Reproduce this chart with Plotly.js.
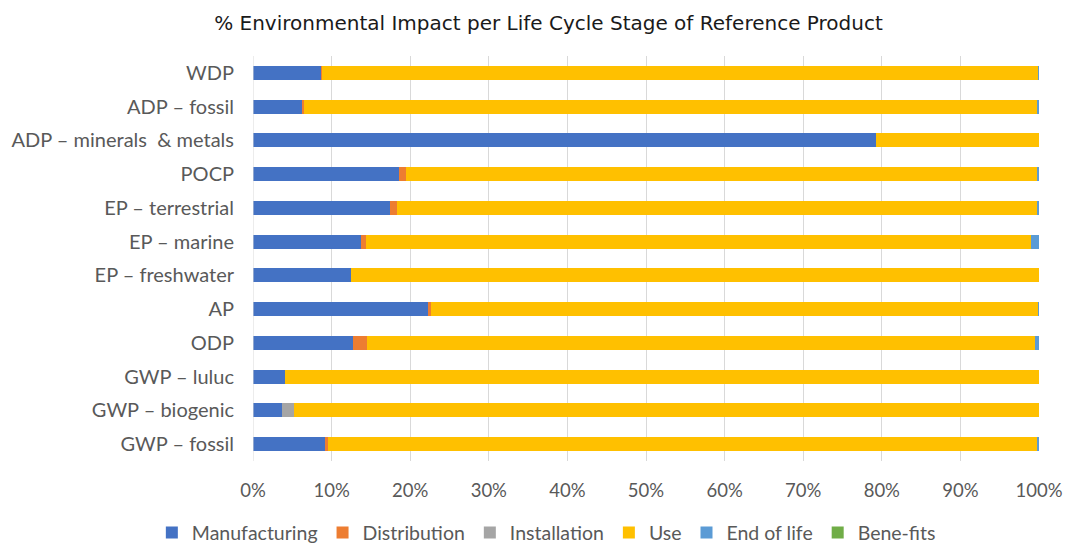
<!DOCTYPE html>
<html>
<head>
<meta charset="utf-8">
<script src="https://cdn.plot.ly/plotly-3.0.1.min.js"></script>
<style>html,body{margin:0;padding:0;background:#fff;}#chart{width:1065px;height:546px;}</style>
</head>
<body>
<div id="chart"></div>
<script>
// categories from bottom to top
const categories = ["GWP – fossil", "GWP – biogenic", "GWP – luluc", "ODP", "AP", "EP – freshwater", "EP – marine", "EP – terrestrial", "POCP", "ADP – minerals  & metals", "ADP – fossil", "WDP"];
const manufacturing = [9.1, 3.7, 4.1, 12.7, 22.3, 12.5, 13.7, 17.4, 18.6, 79.3, 6.2, 8.6];
const distribution  = [0.4, 0.0, 0.0, 1.8, 0.3, 0.0, 0.7, 0.9, 0.9, 0.0, 0.35, 0.2];
const installation  = [0.0, 1.5, 0.0, 0.0, 0.0, 0.0, 0.0, 0.0, 0.0, 0.0, 0.0, 0.0];
const use           = [90.3, 94.8, 95.9, 85.0, 77.3, 87.5, 84.55, 81.4, 80.2, 20.7, 93.25, 91.1];
const endOfLife     = [0.2, 0.0, 0.0, 0.5, 0.1, 0.0, 1.05, 0.3, 0.3, 0.0, 0.2, 0.1];
const benefits      = [0, 0, 0, 0, 0, 0, 0, 0, 0, 0, 0, 0];
const xTicks = [0, 10, 20, 30, 40, 50, 60, 70, 80, 90, 100];
const xTickLabels = ["0%", "10%", "20%", "30%", "40%", "50%", "60%", "70%", "80%", "90%", "100%"];

const series = [
  {name: "Manufacturing", x: manufacturing, color: "#4472C4"},
  {name: "Distribution", x: distribution, color: "#ED7D31"},
  {name: "Installation", x: installation, color: "#A5A5A5"},
  {name: "Use", x: use, color: "#FFC000"},
  {name: "End of life", x: endOfLife, color: "#5B9BD5"},
  {name: "Bene-fits", x: benefits, color: "#70AD47"}
];
const traces = series.map(s => ({
  type: "bar", orientation: "h", name: s.name, x: s.x, y: categories,
  marker: {color: s.color, line: {width: 0}}, width: 0.42, hoverinfo: "x+name"
}));

const layout = {
  width: 1065, height: 546,
  barmode: "stack",
  paper_bgcolor: "#fff", plot_bgcolor: "#fff",
  margin: {l: 253, r: 26, t: 56, b: 85, autoexpand: false},
  font: {family: "Lato, 'Open Sans', sans-serif", color: "#595959", size: 19},
  title: {text: "% Environmental Impact per Life Cycle Stage of Reference Product",
          font: {family: "'DejaVu Sans', sans-serif", size: 20, color: "#1a1a1a"},
          x: 0.515, xanchor: "center", y: 0.958, yanchor: "middle"},
  xaxis: {range: [0, 100], tickvals: xTicks, ticktext: xTickLabels, showgrid: true,
          gridcolor: "#D9D9D9", gridwidth: 1, zeroline: false, showline: false,
          ticks: "", ticklabelstandoff: 16, tickfont: {size: 18.5, color: "#595959"}, fixedrange: true},
  yaxis: {type: "category", categoryorder: "array", categoryarray: categories,
          showgrid: false, zeroline: false, showline: false, ticks: "",
          ticklabelstandoff: 18, tickfont: {size: 20, color: "#595959"}, fixedrange: true},
  shapes: [{type: "line", xref: "x", yref: "paper", x0: 0, x1: 0, y0: 0, y1: 1,
            line: {color: "#D9D9D9", width: 1}}],
  legend: {orientation: "h", xref: "container", yref: "container", x: 0.513, xanchor: "center",
           y: 0.06, yanchor: "top",
           font: {size: 19.5, color: "#595959"}, itemwidth: 30, traceorder: "normal"},
  showlegend: true
};
Plotly.newPlot("chart", traces, layout, {displayModeBar: false, staticPlot: true});
</script>
</body>
</html>
